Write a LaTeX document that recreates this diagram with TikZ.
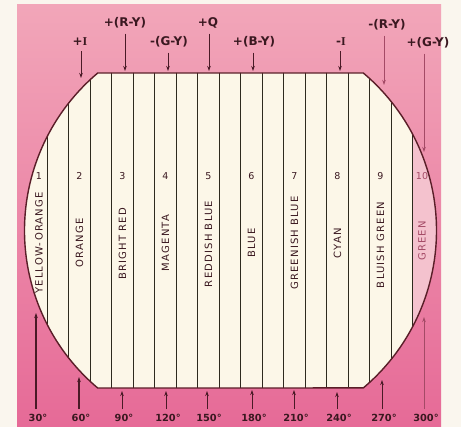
\documentclass[tikz,border=0pt]{standalone}
\usepackage{fontspec}
\setmainfont{DejaVu Sans}
\newfontfamily\bandfont{DejaVu Sans}[LetterSpace=12]
\newfontfamily\serifI{Liberation Serif}
\usetikzlibrary{arrows.meta}
\definecolor{bgout}{HTML}{FAF6EE}
\definecolor{pinkT}{HTML}{F2A6B9}
\definecolor{pinkB}{HTML}{E66A97}
\definecolor{screen}{HTML}{FCF7E8}
\definecolor{band10}{HTML}{F4C2CE}
\definecolor{stripecol}{HTML}{2E2A1E}
\definecolor{outline}{HTML}{5A1E28}
\definecolor{txt}{HTML}{3A1820}
\definecolor{arrcol}{HTML}{4A1A26}
\definecolor{lightarr}{HTML}{A44A66}
\tikzset{
  toplab/.style={font=\bfseries\fontsize{12}{13}\selectfont, text=txt, inner sep=1pt},
  botlab/.style={font=\bfseries\fontsize{9.8}{10}\selectfont, text=txt, inner sep=1pt},
  numlab/.style={font=\fontsize{9.5}{10}\selectfont, text=txt, inner sep=1pt},
  bandlab/.style={font=\bandfont\fontsize{10}{11}\selectfont, text=txt, rotate=90, inner sep=1pt},
  arr/.style={draw=arrcol, line width=1pt, -{Stealth[length=5pt,width=3.5pt]}, shorten <=4pt},
  arrthick/.style={arr, line width=1.6pt},
  arrl/.style={arr, draw=lightarr},
  stripe/.style={draw=stripecol, line width=1.1pt},
  outl/.style={draw=outline, line width=1.4pt}
}
\begin{document}
\begin{tikzpicture}[x=1pt,y=1pt]
\useasboundingbox (0,0) rectangle (461,427);
\fill[bgout] (0,0) rectangle (461,427);
\shade[top color=pinkT, bottom color=pinkB] (17,0) rectangle (441,422);
% screen
\begin{scope}
  \clip (97.7,354) -- (363.3,354) arc[start angle=49.86,end angle=-49.86,radius=206]
        -- (97.7,39) arc[start angle=229.86,end angle=130.14,radius=206] -- cycle;
  \fill[screen] (0,0) rectangle (461,427);
  \fill[band10] (413.25,0) rectangle (461,427);
  \foreach \i in {0,...,17}
    \draw[stripe] ({47.25+21.5*\i},20) -- ({47.25+21.5*\i},380);
\end{scope}
\draw[outl] (97.7,354) -- (363.3,354) arc[start angle=49.86,end angle=-49.86,radius=206]
        -- (97.7,39) arc[start angle=229.86,end angle=130.14,radius=206] -- cycle;
% band numbers
\node[numlab] (n1) at (39,251) {1};
\node[numlab] (n2) at (79.5,251) {2};
\node[numlab] (n3) at (122.5,251) {3};
\node[numlab] (n4) at (165.5,251) {4};
\node[numlab] (n5) at (208.5,251) {5};
\node[numlab] (n6) at (251.5,251) {6};
\node[numlab] (n7) at (294.5,251) {7};
\node[numlab] (n8) at (337.5,251) {8};
\node[numlab] (n9) at (380.5,251) {9};
\node[numlab, text=lightarr] (n10) at (422,251) {10};
% band names
\node[bandlab] (c1) at (39,184) {YELLOW-ORANGE};
\node[bandlab] (c2) at (79.5,184) {ORANGE};
\node[bandlab] (c3) at (122.5,183) {BRIGHT RED};
\node[bandlab] (c4) at (165.5,184) {MAGENTA};
\node[bandlab] (c5) at (208.5,183) {REDDISH BLUE};
\node[bandlab] (c6) at (251.5,184) {BLUE};
\node[bandlab] (c7) at (294.5,184) {GREENISH BLUE};
\node[bandlab] (c8) at (337.5,184) {CYAN};
\node[bandlab] (c9) at (380.5,182) {BLUISH GREEN};
\node[bandlab, text=lightarr] (c10) at (422,186) {GREEN};
% top labels
\node[toplab] (tI) at (80,385) {+{\serifI\bfseries I}};
\node[toplab] (tRY) at (125,404) {+(R-Y)};
\node[toplab] (tGY) at (169,385) {-(G-Y)};
\node[toplab] (tQ) at (208,404) {+Q};
\node[toplab] (tBY) at (254,385) {+(B-Y)};
\node[toplab] (tmI) at (341,385) {-{\serifI\bfseries I}};
\node[toplab] (tmRY) at (387,402) {-(R-Y)};
\node[toplab] (tpGY) at (428,384) {+(G-Y)};
\coordinate (aI) at (81,349);
\coordinate (aRY) at (125,356);
\coordinate (aGY) at (168,356);
\coordinate (aQ) at (209,356);
\coordinate (aBY) at (253,356);
\coordinate (amI) at (340,356);
\coordinate (amRY) at (384,342);
\coordinate (apGY) at (424,275);
\draw[arr] (tI.south -| aI) -- (aI);
\draw[arr] (tRY.south -| aRY) -- (aRY);
\draw[arr] (tGY.south -| aGY) -- (aGY);
\draw[arr] (tQ.south -| aQ) -- (aQ);
\draw[arr] (tBY.south -| aBY) -- (aBY);
\draw[arr] (tmI.south -| amI) -- (amI);
\draw[arrl] (tmRY.south -| amRY) -- (amRY);
\draw[arrl] (tpGY.south -| apGY) -- (apGY);
% bottom labels
\node[botlab] (b30) at (38,9) {30°};
\node[botlab] (b60) at (81,9) {60°};
\node[botlab] (b90) at (124,9) {90°};
\node[botlab] (b120) at (168,9) {120°};
\node[botlab] (b150) at (209,9) {150°};
\node[botlab] (b180) at (254,9) {180°};
\node[botlab] (b210) at (296,9) {210°};
\node[botlab] (b240) at (339,9) {240°};
\node[botlab] (b270) at (384,9) {270°};
\node[botlab] (b300) at (426,9) {300°};
\coordinate (d30) at (36,114);
\coordinate (d60) at (79,50);
\coordinate (d90) at (122,36);
\coordinate (d120) at (166,36);
\coordinate (d150) at (207,36);
\coordinate (d180) at (252,37);
\coordinate (d210) at (294,37);
\coordinate (d240) at (337,35);
\coordinate (d270) at (382,47);
\coordinate (d300) at (424,110);
\draw[arrthick] (b30.north -| d30) -- (d30);
\draw[arrthick] (b60.north -| d60) -- (d60);
\draw[arr] (b90.north -| d90) -- (d90);
\draw[arr] (b120.north -| d120) -- (d120);
\draw[arr] (b150.north -| d150) -- (d150);
\draw[arr] (b180.north -| d180) -- (d180);
\draw[arr] (b210.north -| d210) -- (d210);
\draw[arr] (b240.north -| d240) -- (d240);
\draw[arr] (b270.north -| d270) -- (d270);
\draw[arrl] (b300.north -| d300) -- (d300);
\end{tikzpicture}
\end{document}
